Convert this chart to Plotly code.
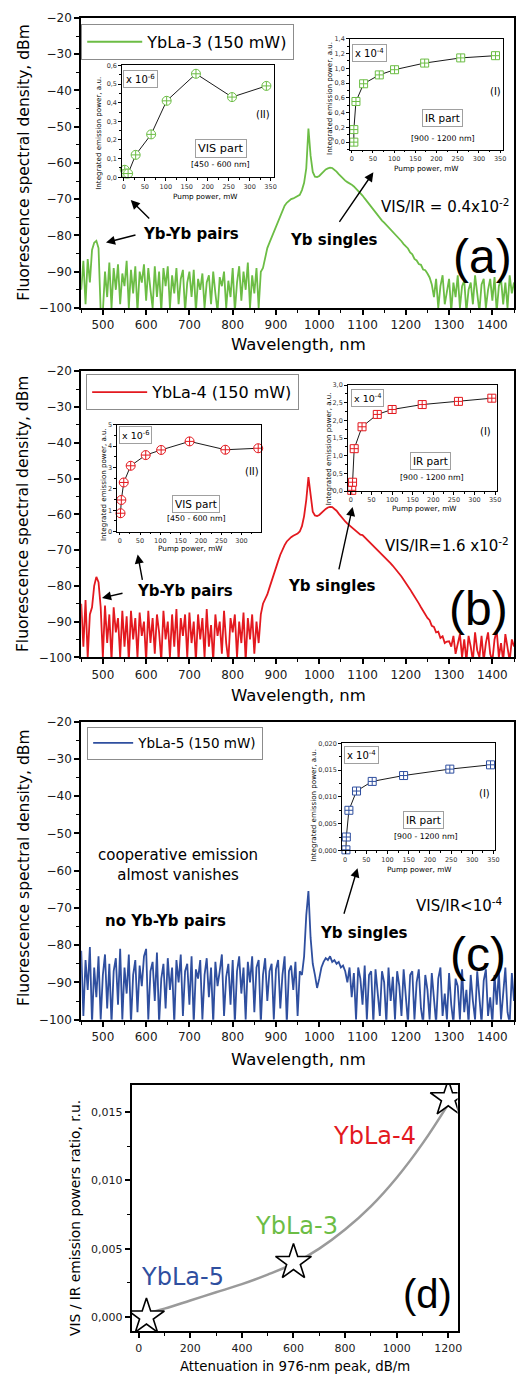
import plotly.graph_objects as go

W, H = 520, 1382
F = "DejaVu Sans"
ARIAL = "Liberation Sans"

GREEN = "#6cbd45"
RED = "#e3191f"
BLUE = "#2f4f9f"

# ---------------- spectra (dBm), 5 nm grid 450..1450 nm ----------------
wavelength = list(range(450, 1451, 5))

spec_yb_la3 = [
    -95, -87, -99, -86.5, -93, -84, -82, -81.5, -83.5, -101,
    -101, -90, -97, -87.5, -100, -89, -95, -88, -99, -90.5,
    -94, -87, -100, -89.5, -96, -88.5, -101, -90, -93, -88,
    -98, -89, -95, -100, -88.5, -97, -90, -101, -89, -94,
    -88.5, -100, -91, -96, -89, -99, -92, -89.5, -101, -93,
    -90, -97, -89.5, -101, -92, -95, -90.5, -100, -93, -91,
    -99, -90, -96, -101, -91.5, -94, -90, -100, -92.5, -97,
    -89, -101, -93, -88.5, -98, -90, -95, -87.5, -100, -91,
    -96, -89, -100, -90, -89, -86, -83.5, -82, -80.5, -79,
    -77.5, -76, -74.5, -73, -71.8, -71, -70.4, -70, -69.8, -69.5,
    -69.2, -68.8, -67.5, -65.5, -61.5, -50.5, -58, -62.5, -63.8, -63.9,
    -63.6, -63, -62.3, -61.8, -61.5, -61.3, -61.4, -61.8, -62.4, -63.1,
    -63.8, -64.4, -64.9, -65.3, -65.6, -66, -66.5, -67.1, -67.7, -68.3,
    -69, -69.8, -70.6, -71.4, -72.2, -73, -73.8, -74.5, -75.2, -75.9,
    -76.5, -77.1, -77.7, -78.3, -78.9, -79.5, -80.2, -80.9, -81.6, -82.4,
    -83.1, -83.6, -84.7, -85.2, -86.5, -86.9, -87.9, -88.1, -89.4, -89.6,
    -90.5, -91.6, -93.5, -97, -92, -100, -94, -91, -99, -95,
    -92, -101, -93, -97, -91, -100, -94, -92.5, -101, -95,
    -93, -99, -91, -96, -101, -93.5, -92, -100, -95, -92,
    -98, -91.5, -101, -94, -92, -99, -93, -100, -91, -96,
    -93,
]

spec_yb_la4 = [
    -85, -97, -84, -100, -88, -86, -80, -77.5, -79, -86,
    -100, -85.5, -96, -88, -101, -86, -93, -89, -100, -87,
    -97, -88.5, -101, -87, -95, -89, -100, -87.5, -94, -90,
    -101, -87, -96, -89, -99, -88, -93, -101, -87, -95,
    -90, -100, -88, -97, -86.5, -101, -89, -94, -88, -100,
    -87.5, -96, -90, -101, -88, -95, -89, -100, -86.5, -97,
    -91, -101, -88, -94, -90, -99, -87, -96, -101, -89,
    -93, -88, -100, -90, -96, -87.5, -101, -89, -95, -88,
    -99, -90, -96, -88, -85, -83.8, -82.4, -80.5, -78.8, -76.9,
    -75, -73.1, -71.3, -69.8, -68.6, -67.6, -66.9, -66.4, -66, -65.7,
    -65.4, -64.8, -63.3, -60.5, -56, -49.6, -55, -59.3, -60.3, -60.5,
    -60.2, -59.6, -59, -58.5, -58.1, -57.9, -58, -58.4, -59, -59.8,
    -60.6, -61.3, -62, -62.6, -63.1, -63.6, -64.1, -64.6, -65.2, -65.7,
    -65.8, -66.4, -67, -67.6, -68.2, -68.8, -69.4, -70, -70.5, -71.1,
    -71.8, -72.4, -73.1, -73.7, -74.4, -75.1, -75.8, -76.6, -77.4, -78.3,
    -79.1, -80, -81, -82, -82.9, -83.9, -84.9, -86, -87, -88,
    -89, -89.6, -91.2, -91.5, -93, -92.8, -94.6, -94.1, -96, -95.6,
    -95.5, -97, -94, -99, -96, -93.5, -100, -95, -101, -94,
    -97, -101, -93, -98, -100, -94, -101, -96, -93, -99,
    -101, -95, -92.5, -100, -96, -101, -93.5, -98, -101, -95,
    -97,
]

spec_yb_la5 = [
    -81.5, -99, -84, -92, -80.5, -101, -86, -94, -83, -100,
    -88, -82.5, -97, -85, -101, -87, -83.5, -96, -81, -100,
    -86, -93, -82.5, -101, -88, -84, -98, -85.5, -91, -83,
    -81, -100, -87, -84.5, -95, -82, -101, -89, -85, -97,
    -83.5, -92, -86, -101, -84, -90, -82.5, -99, -87, -85,
    -96, -83, -101, -86.5, -89, -84, -100, -88, -83.5, -94,
    -86, -101, -84.5, -91, -87, -82.5, -99, -88.5, -85, -96,
    -84, -101, -87, -83, -93, -86, -100, -84.5, -90, -83,
    -98, -86, -84, -101, -88, -83.5, -95, -87, -85, -100,
    -86.5, -84, -97, -88, -83, -101, -87, -85.5, -92, -84.5,
    -99, -87, -88, -83, -72, -65.5, -78, -85, -88, -91.5,
    -89, -86, -84.5, -83.5, -84, -83, -84.5, -84, -85, -84.5,
    -86, -85.5, -87, -90, -86, -94, -87.5, -100, -86, -89,
    -96, -85.5, -100, -88, -87, -101, -86.5, -92, -99, -87,
    -90, -101, -86, -95, -88.5, -100, -87, -91, -99, -86.5,
    -93, -101, -88, -87, -100, -90, -86.5, -97, -101, -88,
    -92, -100, -87.5, -95, -101, -89, -86, -99, -93, -100,
    -87.5, -96, -101, -89, -91, -100, -86.5, -98, -92, -101,
    -88, -95, -100, -87, -93, -101, -89.5, -86.5, -99, -94,
    -101, -88, -96, -87, -100, -92, -86, -98, -101, -87.5,
    -95,
]

# ---------------- integrated emission power vs pump power ----------------
vis_a_pump = [2, 5, 10, 28, 65, 102, 172, 258, 340]
vis_a_power = [0.04, 0.02, 0.02, 0.12, 0.23, 0.41, 0.555, 0.43, 0.49]      # x 1e-6
ir_a_pump = [5, 5, 10, 28, 65, 101, 172, 257, 339]
ir_a_power = [0.0, 0.17, 0.55, 0.79, 0.91, 0.98, 1.07, 1.14, 1.17]          # x 1e-4

vis_b_pump = [2, 4, 10, 27, 64, 102, 172, 260, 341]
vis_b_power = [0.86, 1.48, 2.3, 3.08, 3.58, 3.82, 4.22, 3.83, 3.9]          # x 1e-6
ir_b_pump = [2, 4, 8, 27, 64, 100, 173, 261, 342]
ir_b_power = [0.02, 0.25, 1.2, 1.82, 2.17, 2.31, 2.45, 2.54, 2.63]          # x 1e-4

ir_c_pump = [2, 3, 9, 27, 64, 138, 247, 343]
ir_c_power = [0.0001, 0.0025, 0.0075, 0.0111, 0.0129, 0.0140, 0.0152, 0.0160]  # x 1e-4

# ---------------- VIS/IR ratio vs attenuation ----------------
samples = ["YbLa-5", "YbLa-3", "YbLa-4"]
attenuation = [30, 600, 1200]
vis_ir_ratio = [0.0000, 0.0040, 0.0160]
trend_att = [0, 100, 200, 300, 400, 500, 600, 700, 800, 900, 1000, 1100, 1200, 1225]
trend_ratio = [0.0001, 0.0006, 0.0012, 0.0018, 0.0024, 0.0031, 0.0039, 0.0050,
               0.0064, 0.0081, 0.0102, 0.0127, 0.0156, 0.0164]


def dom_x(x0, x1):
    return [x0 / W, x1 / W]


def dom_y(y_top, y_bot):
    return [1 - y_bot / H, 1 - y_top / H]


fig = go.Figure()

# main spectra
fig.add_trace(go.Scatter(x=wavelength, y=spec_yb_la3, mode="lines", name="YbLa-3 (150 mW)",
                         line=dict(color=GREEN, width=1.8), xaxis="x", yaxis="y", legend="legend"))
fig.add_trace(go.Scatter(x=wavelength, y=spec_yb_la4, mode="lines", name="YbLa-4 (150 mW)",
                         line=dict(color=RED, width=1.8), xaxis="x2", yaxis="y2", legend="legend2"))
fig.add_trace(go.Scatter(x=wavelength, y=spec_yb_la5, mode="lines", name="YbLa-5 (150 mW)",
                         line=dict(color=BLUE, width=1.8), xaxis="x3", yaxis="y3", legend="legend3"))

# ratio panel
fig.add_trace(go.Scatter(x=trend_att, y=trend_ratio, mode="lines", line=dict(color="#9a9a9a", width=2.5, shape="spline"),
                         xaxis="x4", yaxis="y4", showlegend=False))
fig.add_trace(go.Scatter(x=attenuation, y=vis_ir_ratio, mode="markers",
                         marker=dict(symbol="star", size=27, color="white", line=dict(color="black", width=1.6)),
                         xaxis="x4", yaxis="y4", showlegend=False, text=samples))


def inset_trace(px, py, color, symbol, xa, ya, size):
    fig.add_trace(go.Scatter(x=px, y=py, mode="lines+markers",
                             line=dict(color="black", width=0.9),
                             marker=dict(symbol=symbol, size=size, color="white", line=dict(color=color, width=1)),
                             xaxis=xa, yaxis=ya, showlegend=False, cliponaxis=False))


inset_trace(vis_a_pump, vis_a_power, GREEN, "circle-cross", "x5", "y5", 9)
inset_trace(ir_a_pump, ir_a_power, GREEN, "square-cross", "x6", "y6", 8)
inset_trace(vis_b_pump, vis_b_power, RED, "circle-cross", "x7", "y7", 9)
inset_trace(ir_b_pump, ir_b_power, RED, "square-cross", "x8", "y8", 8)
inset_trace(ir_c_pump, ir_c_power, BLUE, "square-cross", "x9", "y9", 8)


def main_axis(domain, rng, dtick, minor, fmt=None, anchor=None, lw=2, tsize=12):
    ax = dict(domain=domain, range=rng, dtick=dtick, tick0=0, ticks="outside", ticklen=5, tickwidth=1.5,
              tickcolor="black", showline=True, linewidth=lw, linecolor="black", mirror=True,
              showgrid=False, zeroline=False, tickfont=dict(size=tsize, family=F, color="#1a1a1a"),
              minor=dict(dtick=minor, ticks="outside", ticklen=3, tickwidth=1.2, tickcolor="black", showgrid=False))
    if fmt:
        ax["tickformat"] = fmt
    if anchor:
        ax["anchor"] = anchor
    return ax


def inset_axis(domain, rng, dtick, minor, fmt=None, anchor=None):
    ax = dict(domain=domain, range=rng, dtick=dtick, tick0=0, ticks="outside", ticklen=2.5, tickwidth=0.8,
              tickcolor="black", showline=True, linewidth=1, linecolor="black", mirror=True,
              showgrid=False, zeroline=False, tickfont=dict(size=6.5, family=F, color="#333333"),
              minor=dict(dtick=minor, ticks="outside", ticklen=1.5, tickwidth=0.7, tickcolor="black", showgrid=False))
    if fmt:
        ax["tickformat"] = fmt
    if anchor:
        ax["anchor"] = anchor
    return ax


layout_axes = {
    # panel (a)
    "xaxis": main_axis(dom_x(82, 519), [450, 1450], 100, 50, anchor="y"),
    "yaxis": main_axis(dom_y(11, 304), [-100, -20], 10, 5, anchor="x"),
    # panel (b)
    "xaxis2": main_axis(dom_x(82, 519), [450, 1450], 100, 50, anchor="y2"),
    "yaxis2": main_axis(dom_y(368, 657), [-100, -20], 10, 5, anchor="x2"),
    # panel (c)
    "xaxis3": main_axis(dom_x(82, 519), [450, 1450], 100, 50, anchor="y3"),
    "yaxis3": main_axis(dom_y(722, 1023), [-100, -20], 10, 5, anchor="x3"),
    # panel (d)
    "xaxis4": main_axis(dom_x(133, 462), [-27, 1236], 200, 100, fmt="d", anchor="y4", tsize=11),
    "yaxis4": main_axis(dom_y(1089, 1338), [-0.00107, 0.0170], 0.005, 0.0025, fmt=".3f", anchor="x4", tsize=11),
    # insets
    "xaxis5": inset_axis(dom_x(123, 277), [-5, 359], 50, 25, fmt="d", anchor="y5"),
    "yaxis5": inset_axis(dom_y(59, 172), [0, 0.6], 0.1, 0.05, fmt=".1f", anchor="x5"),
    "xaxis6": inset_axis(dom_x(353, 508), [-5, 357], 50, 25, fmt="d", anchor="y6"),
    "yaxis6": inset_axis(dom_y(32, 144), [-0.1, 1.4], 0.2, 0.1, fmt=".1f", anchor="x6"),
    "xaxis7": inset_axis(dom_x(118, 264), [-7, 349], 50, 25, fmt="d", anchor="y7"),
    "yaxis7": inset_axis(dom_y(422, 530), [0, 5], 1, 0.5, fmt="d", anchor="x7"),
    "xaxis8": inset_axis(dom_x(351, 502), [-8, 355], 50, 25, fmt="d", anchor="y8"),
    "yaxis8": inset_axis(dom_y(382, 489), [0, 3], 0.5, 0.25, fmt=".1f", anchor="x8"),
    "xaxis9": inset_axis(dom_x(345, 500), [-8, 354], 50, 25, fmt="d", anchor="y9"),
    "yaxis9": inset_axis(dom_y(744, 852), [0, 0.02], 0.005, 0.0025, fmt=".3f", anchor="x9"),
}

ann = []


def text(x, y, s, size, color="black", family=F, angle=0, **kw):
    ann.append(dict(x=x / W, y=1 - y / H, xref="paper", yref="paper", text=s, showarrow=False,
                    font=dict(size=size, color=color, family=family), xanchor="center", yanchor="middle",
                    textangle=angle, **kw))


def boxed(x, y, s, size):
    text(x, y, s, size, bordercolor="#a0a0a0", borderwidth=1, borderpad=2, bgcolor="white")


def arrow(hx, hy, tx, ty):
    ann.append(dict(x=hx / W, y=1 - hy / H, xref="paper", yref="paper", ax=tx - hx, ay=ty - hy, text="",
                    showarrow=True, arrowhead=2, arrowsize=1.3, arrowwidth=1.4, arrowcolor="black"))


# axis titles of the spectra
YT = "Fluorescence spectral density, dBm"
for yc in (157.5, 512.5, 870):
    text(24, yc, YT, 15.5, angle=-90)
for yc in (341, 696, 1063):
    text(301, yc, "Wavelength, nm", 16.5)

# panel (d) titles and labels
text(298, 1373, "Attenuation in 976-nm peak, dB/m", 13.3)
text(75, 1223, "VIS / IR emission powers ratio, r.u.", 13.8, angle=-90)
text(378, 1141, "YbLa-4", 24, color=RED)
text(299, 1231, "YbLa-3", 24, color=GREEN)
text(184, 1283, "YbLa-5", 24, color=BLUE)
text(432, 1300, "(d)", 40, family=ARIAL)

# panel (a)
text(193, 229, "<b>Yb-Yb pairs</b>", 15)
text(337, 235, "<b>Yb singles</b>", 15)
text(450, 201, "VIS/IR = 0.4x10<sup>-2</sup>", 15)
text(487, 252, "(a)", 48, family=ARIAL)
arrow(107, 238, 138, 230)
arrow(132, 195, 152, 215)
arrow(377, 167, 342, 218)

# panel (b)
text(187, 590, "<b>Yb-Yb pairs</b>", 15)
text(335, 585, "<b>Yb singles</b>", 15)
text(451, 544, "VIS/IR=1.6 x10<sup>-2</sup>", 15)
text(483, 608, "(b)", 48, family=ARIAL)
arrow(103, 597, 125, 592)
arrow(139, 553, 144, 580)
arrow(356, 505, 342, 569)

# panel (c)
text(180, 867, "cooperative emission<br>almost vanishes", 15)
text(167, 923, "<b>no Yb-Yb pairs</b>", 15)
text(368, 935, "<b>Yb singles</b>", 15)
text(464, 907, "VIS/IR&lt;10<sup>-4</sup>", 15)
text(483, 957, "(c)", 48, family=ARIAL)
arrow(361, 870, 347, 917)

# inset labels
PP = "Pump power, mW"
IEP = "Integrated emission power, a.u."
# (a) VIS
boxed(142, 73, "x 10<sup>-6</sup>", 10)
text(266, 109, "(II)", 10)
boxed(223, 143, "VIS part", 11.3)
text(223, 159, "[450 - 600 nm]", 7.8)
text(207, 191, PP, 7.3)
text(100, 128, IEP, 7.1, angle=-90)
# (a) IR
boxed(373, 46, "x 10<sup>-4</sup>", 10)
text(500, 85, "(I)", 10)
boxed(447, 112, "IR part", 10.4)
text(447, 133, "[900 - 1200 nm]", 7.8)
text(430, 163, PP, 7.3)
text(332, 92, IEP, 7.1, angle=-90)
# (b) VIS
boxed(137, 432, "x 10<sup>-6</sup>", 9.5)
text(254, 469, "(II)", 10)
boxed(198, 502, "VIS part", 10.5)
text(198, 517, "[450 - 600 nm]", 7.8)
text(192, 547, PP, 7.3)
text(104, 483, IEP, 7.1, angle=-90)
# (b) IR
boxed(371, 395, "x 10<sup>-4</sup>", 9.5)
text(490, 429, "(I)", 10)
boxed(435, 459, "IR part", 10.4)
text(436, 475, "[900 - 1200 nm]", 7.8)
text(428, 507, PP, 7.3)
text(332, 446, IEP, 7.1, angle=-90)
# (c) IR
boxed(365, 756, "x 10<sup>-4</sup>", 10)
text(489, 795, "(I)", 10)
boxed(428, 821, "IR part", 10.4)
text(430, 838, "[900 - 1200 nm]", 7.8)
text(423, 871, PP, 7.3)
text(317, 806, IEP, 7.1, angle=-90)


def legend_box(x, y, size, itemw):
    return dict(x=x / W, y=1 - y / H, xref="paper", yref="paper", xanchor="left", yanchor="top",
                bgcolor="white", bordercolor="#8c8c8c", borderwidth=1,
                font=dict(size=size, family=F, color="black"), itemwidth=itemw)


fig.update_layout(
    width=W, height=H,
    margin=dict(l=0, r=0, t=0, b=0),
    paper_bgcolor="white", plot_bgcolor="white",
    separators=",.",
    font=dict(family=F, color="black"),
    legend=legend_box(82, 17, 16, 55),
    legend2=legend_box(87, 371, 16, 55),
    legend3=legend_box(88, 727, 13.5, 40),
    annotations=ann,
    **layout_axes,
)

fig.write_html("out.html")
